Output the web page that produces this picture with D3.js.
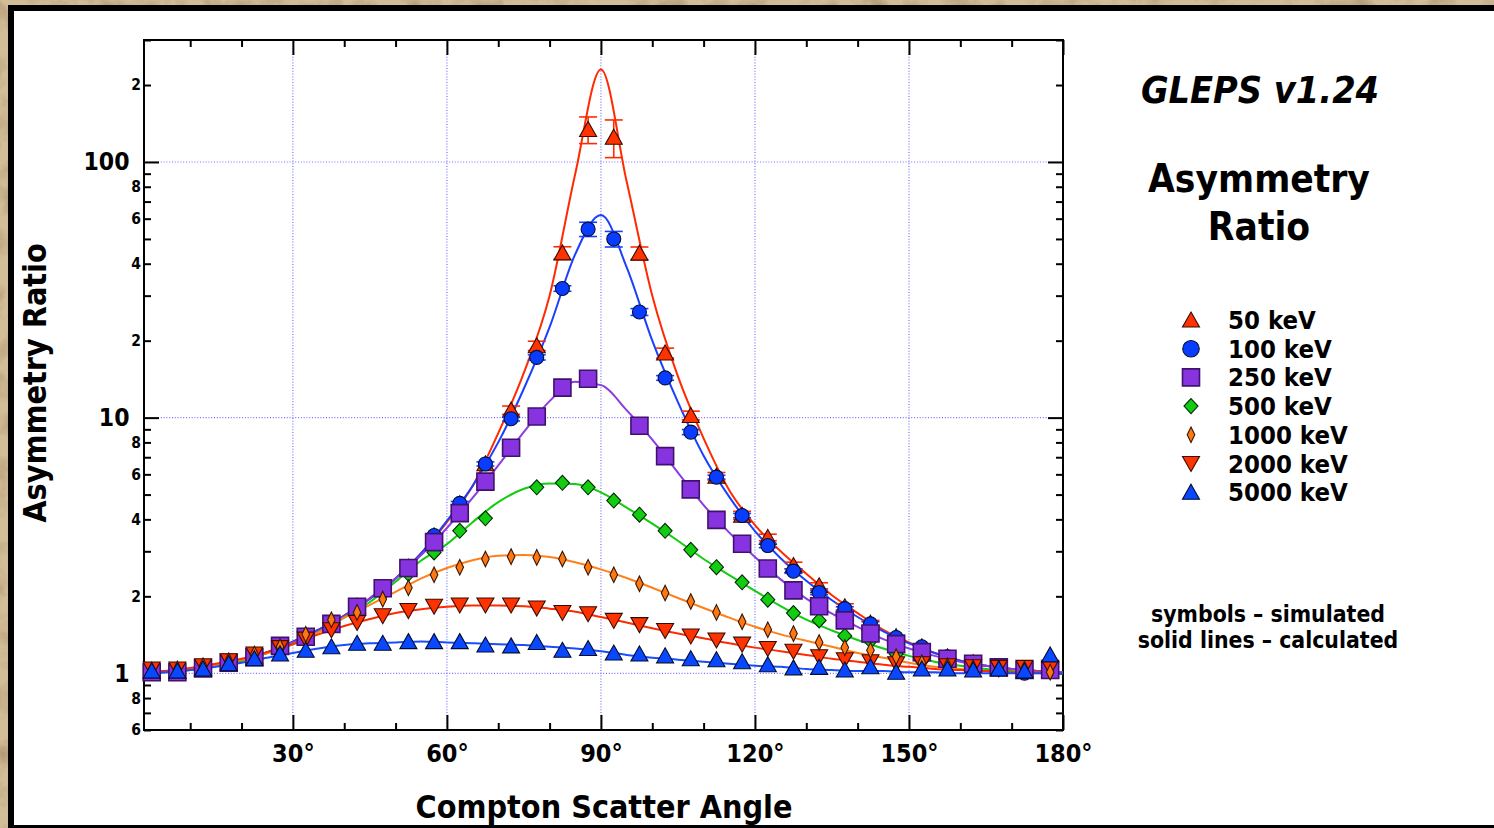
<html>
<head>
<meta charset="utf-8">
<script src="https://d3js.org/d3.v7.min.js"></script>
<style>
body { margin: 0; background: #cdb38b; }
text { font-family: "DejaVu Sans Condensed", "DejaVu Sans", sans-serif; font-weight: bold; fill: #000; }
.grid line { stroke: #7373ff; stroke-width: 1.2; stroke-dasharray: 1,1.8; }
.axis path { display: none; }
.axis line { stroke: #000; stroke-width: 2; }
</style>
</head>
<body>
<svg id="chart" width="1494" height="828"></svg>
<script>
// simulated points, every 5 degrees
var simAngles = [2.5, 7.5, 12.5, 17.5, 22.5, 27.5, 32.5, 37.5, 42.5, 47.5, 52.5, 57.5, 62.5, 67.5, 72.5, 77.5, 82.5, 87.5,
                 92.5, 97.5, 102.5, 107.5, 112.5, 117.5, 122.5, 127.5, 132.5, 137.5, 142.5, 147.5, 152.5, 157.5, 162.5, 167.5, 172.5, 177.5];

var sim50   = [1.02, 1.02, 1.05, 1.10, 1.16, 1.27, 1.39, 1.57, 1.83, 2.13, 2.6, 3.45, 4.6, 6.6, 10.7, 19.1, 44.1, 134,
               125, 44.0, 17.9, 10.2, 5.9, 4.15, 3.40, 2.64, 2.20, 1.82, 1.57, 1.39, 1.27, 1.16, 1.10, 1.06, 1.03, 1.03];
var sim100  = [1.02, 1.02, 1.05, 1.10, 1.16, 1.28, 1.40, 1.57, 1.84, 2.15, 2.6, 3.46, 4.62, 6.59, 9.9, 17.2, 32.0, 54.6,
               50.0, 25.9, 14.3, 8.78, 5.85, 4.14, 3.16, 2.51, 2.07, 1.79, 1.56, 1.38, 1.27, 1.16, 1.10, 1.06, 1.00, 1.02];
var sim250  = [1.01, 1.01, 1.045, 1.10, 1.155, 1.28, 1.39, 1.56, 1.82, 2.15, 2.58, 3.26, 4.23, 5.62, 7.62, 10.1, 13.1, 14.2,
               null, 9.3, 7.07, 5.24, 3.98, 3.21, 2.57, 2.11, 1.83, 1.61, 1.43, 1.30, 1.21, 1.14, 1.09, 1.055, 1.03, 1.03];
var sim500  = [1.03, 1.03, 1.06, 1.10, 1.17, 1.25, 1.38, 1.55, 1.75, 2.05, 2.45, 2.97, 3.61, 4.04, null, 5.34, 5.56, 5.34,
               4.74, 4.17, 3.61, 3.04, 2.60, 2.27, 1.94, 1.72, 1.61, 1.40, 1.34, 1.19, 1.12, 1.08, 1.05, 1.04, 1.03, 1.03];
var sim1000 = [1.03, 1.04, 1.07, 1.12, 1.19, 1.27, 1.42, 1.62, 1.73, 1.95, 2.16, 2.43, 2.60, 2.80, 2.86, 2.84, 2.80, 2.60,
               2.43, 2.24, 2.06, 1.91, 1.73, 1.59, 1.48, 1.43, 1.32, 1.26, 1.23, 1.16, 1.10, 1.07, 1.05, 1.04, 1.04, 1.01];
var sim2000 = [1.04, 1.04, 1.07, 1.12, 1.19, 1.26, 1.36, 1.48, 1.58, 1.68, 1.76, 1.83, 1.85, 1.85, 1.85, 1.80, 1.73, 1.71,
               1.61, 1.55, 1.47, 1.40, 1.35, 1.30, 1.25, 1.22, 1.16, 1.13, 1.11, 1.09, 1.09, 1.07, 1.06, 1.055, 1.055, 1.055];
var sim5000 = [1.02, 1.02, 1.04, 1.09, 1.14, 1.19, 1.23, 1.27, 1.31, 1.31, 1.33, 1.33, 1.33, 1.29, 1.28, 1.32, 1.23, 1.25,
               1.20, 1.19, 1.17, 1.14, 1.13, 1.11, 1.08, 1.05, 1.055, 1.03, 1.06, 1.01, 1.04, 1.04, 1.03, 1.04, 1.02, 1.18];

// +/- errors on the simulated points (null = no bar)
var err50  = [null, null, null, null, null, null, null, null, null, null, null, null, null, null, 0.4, 0.8, 2.5, 16,
              21, 2.5, 0.8, 0.4, 0.2, 0.15, 0.1, 0.08, 0.06, 0.05, 0.04, null, null, null, null, null, null, null];
var err100 = [null, null, null, null, null, null, null, null, null, null, null, 0.05, 0.08, 0.12, 0.2, 0.4, 0.8, 3.5,
              3.5, 0.8, 0.3, 0.2, 0.1, 0.08, 0.06, 0.05, 0.04, 0.03, 0.03, 0.03, 0.02, null, null, null, null, null];

// calculated curves
var calcAngles = [0, 5, 10, 15, 20, 25, 30, 35, 40, 45, 50, 55, 60, 65, 70, 75, 80, 85, 90,
                  95, 100, 105, 110, 115, 120, 125, 130, 135, 140, 145, 150, 155, 160, 165, 170, 175, 180];

var calc50   = [1.0, 1.02, 1.04, 1.07, 1.13, 1.21, 1.33, 1.48, 1.68, 1.96, 2.35, 2.95, 3.9, 5.4, 8.7, 15, 30, 90, 230,
                84, 30, 14.5, 8.3, 5.2, 3.8, 3.0, 2.45, 2.02, 1.72, 1.48, 1.32, 1.2, 1.12, 1.07, 1.04, 1.02, 1.01];
var calc100  = [1.0, 1.02, 1.04, 1.07, 1.13, 1.21, 1.33, 1.48, 1.68, 1.96, 2.35, 2.95, 3.95, 5.4, 8.0, 13.0, 22.6, 43.6, 62,
                38.8, 20, 11.5, 7.1, 4.9, 3.6, 2.82, 2.3, 1.93, 1.66, 1.46, 1.31, 1.2, 1.12, 1.07, 1.04, 1.02, 1.01];
var calc250  = [1.0, 1.01, 1.03, 1.07, 1.12, 1.2, 1.32, 1.46, 1.67, 1.97, 2.35, 2.9, 3.7, 4.85, 6.5, 8.8, 11.6, 13.8, 13.4,
                10.7, 8.2, 6.1, 4.55, 3.55, 2.85, 2.33, 1.96, 1.71, 1.52, 1.36, 1.25, 1.17, 1.11, 1.07, 1.04, 1.02, 1.01];
var calc500  = [1.0, 1.01, 1.03, 1.07, 1.12, 1.2, 1.3, 1.45, 1.65, 1.9, 2.28, 2.76, 3.2, 3.9, 4.67, 5.27, 5.53, 5.5, 5.1,
                4.45, 3.85, 3.3, 2.8, 2.42, 2.1, 1.83, 1.62, 1.47, 1.35, 1.25, 1.17, 1.11, 1.07, 1.04, 1.02, 1.01, 1.0];
var calc1000 = [1.0, 1.02, 1.04, 1.08, 1.13, 1.2, 1.3, 1.45, 1.65, 1.85, 2.08, 2.35, 2.58, 2.77, 2.88, 2.9, 2.85, 2.72, 2.55,
                2.36, 2.16, 1.97, 1.8, 1.65, 1.52, 1.42, 1.34, 1.27, 1.2, 1.15, 1.1, 1.06, 1.04, 1.02, 1.01, 1.0, 1.0];
var calc2000 = [1.01, 1.02, 1.05, 1.09, 1.14, 1.21, 1.3, 1.42, 1.53, 1.63, 1.72, 1.78, 1.82, 1.84, 1.84, 1.83, 1.79, 1.74, 1.66,
                1.58, 1.5, 1.43, 1.37, 1.31, 1.26, 1.22, 1.18, 1.14, 1.11, 1.08, 1.06, 1.04, 1.03, 1.02, 1.01, 1.01, 1.0];
var calc5000 = [1.0, 1.01, 1.03, 1.06, 1.1, 1.15, 1.2, 1.25, 1.29, 1.31, 1.32, 1.33, 1.32, 1.31, 1.3, 1.29, 1.27, 1.25, 1.22,
                1.18, 1.15, 1.13, 1.11, 1.09, 1.07, 1.06, 1.04, 1.03, 1.02, 1.02, 1.01, 1.01, 1.0, 1.0, 1.0, 1.0, 1.0];

var energies = ["50 keV", "100 keV", "250 keV", "500 keV", "1000 keV", "2000 keV", "5000 keV"];

// axis ticks
var xMajorTicks = [30, 60, 90, 120, 150, 180];
var xMinorTicks = [10, 20, 40, 50, 70, 80, 100, 110, 130, 140, 160, 170];
var yMajorTicks = [1, 10, 100];
var yMinorTicks = [0.6, 0.7, 0.8, 0.9, 2, 3, 4, 5, 6, 7, 8, 9, 20, 30, 40, 50, 60, 70, 80, 90, 200, 300];

var series = [
  {name: energies[0], sim: sim50,   calc: calc50,   err: err50,  shape: "triUp",   fill: "#ff3300", stroke: "#3a0a00", line: "#ff2a00"},
  {name: energies[1], sim: sim100,  calc: calc100,  err: err100, shape: "circle",  fill: "#0a3cff", stroke: "#00103a", line: "#1a40ff"},
  {name: energies[2], sim: sim250,  calc: calc250,  err: null,   shape: "square",  fill: "#8833e0", stroke: "#40126e", line: "#8a3ce0"},
  {name: energies[3], sim: sim500,  calc: calc500,  err: null,   shape: "diamond", fill: "#11cc11", stroke: "#022a02", line: "#11cc11"},
  {name: energies[4], sim: sim1000, calc: calc1000, err: null,   shape: "thin",    fill: "#ff7711", stroke: "#3a1500", line: "#ff7f1a"},
  {name: energies[5], sim: sim2000, calc: calc2000, err: null,   shape: "triDown", fill: "#ff3300", stroke: "#3a0a00", line: "#ff2a00"},
  {name: energies[6], sim: sim5000, calc: calc5000, err: null,   shape: "triUp",   fill: "#0a48ff", stroke: "#000c30", line: "#1a4cff"}
];
// symbol stacking seen in the picture
var drawOrder = [0, 1, 3, 2, 5, 4, 6];

function shapePath(shape, k) {
  k = k || 1;
  if (shape == "triUp") return "M0," + (-8*k) + "L" + (8.5*k) + "," + (7*k) + "L" + (-8.5*k) + "," + (7*k) + "Z";
  if (shape == "triDown") return "M0," + (8*k) + "L" + (8.5*k) + "," + (-7*k) + "L" + (-8.5*k) + "," + (-7*k) + "Z";
  if (shape == "square") return "M" + (-8.5*k) + "," + (-8.5*k) + "h" + (17*k) + "v" + (17*k) + "h" + (-17*k) + "Z";
  if (shape == "diamond") return "M0," + (-7.5*k) + "L" + (7*k) + ",0L0," + (7.5*k) + "L" + (-7*k) + ",0Z";
  if (shape == "thin") return "M0," + (-7.8*k) + "L" + (3.8*k) + ",0L0," + (7.8*k) + "L" + (-3.8*k) + ",0Z";
  var r = 7*k;
  return "M" + r + ",0A" + r + "," + r + " 0 1,1 " + (-r) + ",0A" + r + "," + r + " 0 1,1 " + r + ",0Z";
}

var svg = d3.select("#chart");

// parchment + frame
var defs = svg.append("defs");
var f = defs.append("filter").attr("id", "paper").attr("x", 0).attr("y", 0).attr("width", "100%").attr("height", "100%");
f.append("feTurbulence").attr("type", "fractalNoise").attr("baseFrequency", 0.035).attr("numOctaves", 4).attr("seed", 7);
f.append("feColorMatrix").attr("type", "matrix")
  .attr("values", "0 0 0 0 0.45  0 0 0 0 0.33  0 0 0 0 0.18  0 0 0 -2.4 1.35");
defs.append("clipPath").attr("id", "plotclip").append("rect")
  .attr("x", 144).attr("y", 40).attr("width", 919).attr("height", 690);

svg.append("rect").attr("width", 1494).attr("height", 828).attr("fill", "#d3bd98");
svg.append("rect").attr("width", 1494).attr("height", 828).attr("filter", "url(#paper)");
svg.append("rect").attr("x", 8).attr("y", 5).attr("width", 1500).attr("height", 830).attr("fill", "#000");
svg.append("rect").attr("x", 14).attr("y", 11).attr("width", 1490).attr("height", 814).attr("fill", "#fff");

var x = d3.scaleLinear().domain([1, 180]).range([144, 1063]);
var y = d3.scaleLog().domain([0.6, 300]).range([730, 40]);

// grid
var grid = svg.append("g").attr("class", "grid");
grid.selectAll(".gx").data(xMajorTicks.filter(function(d) { return d < 180; })).enter().append("line")
  .attr("x1", function(d) { return x(d); }).attr("x2", function(d) { return x(d); })
  .attr("y1", 40).attr("y2", 730);
grid.selectAll(".gy").data(yMajorTicks).enter().append("line")
  .attr("y1", function(d) { return y(d); }).attr("y2", function(d) { return y(d); })
  .attr("x1", 144).attr("x2", 1063);

// axes, ticks pointing inward
function minorLabel(v) {
  var p = Math.pow(10, Math.floor(Math.log10(v) + 1e-9));
  var d = Math.round(v / p);
  return d % 2 == 0 ? String(d) : "";
}
svg.append("g").attr("class", "axis").attr("transform", "translate(144,0)")
  .call(d3.axisLeft(y).tickValues(yMinorTicks).tickSize(-7).tickSizeOuter(0).tickPadding(3).tickFormat(minorLabel))
  .selectAll("text").style("font-size", "15.5px");
svg.append("g").attr("class", "axis").attr("transform", "translate(144,0)")
  .call(d3.axisLeft(y).tickValues(yMajorTicks).tickSize(-15).tickSizeOuter(0).tickPadding(14.5).tickFormat(d3.format("d")))
  .selectAll("text").style("font-size", "24.5px");
svg.append("g").attr("class", "axis").attr("transform", "translate(1063,0)")
  .call(d3.axisRight(y).tickValues(yMinorTicks).tickSize(-7).tickSizeOuter(0).tickFormat(""));
svg.append("g").attr("class", "axis").attr("transform", "translate(1063,0)")
  .call(d3.axisRight(y).tickValues(yMajorTicks).tickSize(-15).tickSizeOuter(0).tickFormat(""));

svg.append("g").attr("class", "axis").attr("transform", "translate(0,730)")
  .call(d3.axisBottom(x).tickValues(xMinorTicks).tickSize(-7).tickSizeOuter(0).tickFormat(""));
svg.append("g").attr("class", "axis").attr("transform", "translate(0,730)")
  .call(d3.axisBottom(x).tickValues(xMajorTicks).tickSize(-15).tickSizeOuter(0).tickPadding(14).tickFormat(function(d) { return d + "°"; }))
  .selectAll("text").style("font-size", "25px");
svg.append("g").attr("class", "axis").attr("transform", "translate(0,40)")
  .call(d3.axisTop(x).tickValues(xMinorTicks).tickSize(-7).tickSizeOuter(0).tickFormat(""));
svg.append("g").attr("class", "axis").attr("transform", "translate(0,40)")
  .call(d3.axisTop(x).tickValues(xMajorTicks).tickSize(-15).tickSizeOuter(0).tickFormat(""));

svg.append("rect").attr("x", 144).attr("y", 40).attr("width", 919).attr("height", 690)
  .attr("fill", "none").attr("stroke", "#000").attr("stroke-width", 2);

// calculated curves
var line = d3.line()
  .defined(function(d) { return d[1] != null; })
  .x(function(d) { return x(d[0]); })
  .y(function(d) { return y(d[1]); })
  .curve(d3.curveMonotoneX);

svg.append("g").attr("clip-path", "url(#plotclip)")
  .selectAll("path").data(series).enter().append("path")
  .attr("fill", "none")
  .attr("stroke", function(s) { return s.line; })
  .attr("stroke-width", 2)
  .attr("d", function(s) { return line(calcAngles.map(function(a, i) { return [a, s.calc[i]]; })); });

// error bars + symbols
drawOrder.forEach(function(k) {
  var s = series[k];
  var pts = s.sim.map(function(v, i) { return {a: simAngles[i], v: v, e: s.err ? s.err[i] : null}; })
    .filter(function(d) { return d.v != null; });
  var g = svg.append("g");
  var eb = pts.filter(function(d) { return d.e != null; });
  var eg = g.selectAll(".eb").data(eb).enter().append("g")
    .attr("stroke", s.line).attr("stroke-width", 1.6);
  eg.append("line")
    .attr("x1", function(d) { return x(d.a); }).attr("x2", function(d) { return x(d.a); })
    .attr("y1", function(d) { return y(d.v - d.e); }).attr("y2", function(d) { return y(d.v + d.e); });
  eg.append("line")
    .attr("x1", function(d) { return x(d.a) - 9; }).attr("x2", function(d) { return x(d.a) + 9; })
    .attr("y1", function(d) { return y(d.v - d.e); }).attr("y2", function(d) { return y(d.v - d.e); });
  eg.append("line")
    .attr("x1", function(d) { return x(d.a) - 9; }).attr("x2", function(d) { return x(d.a) + 9; })
    .attr("y1", function(d) { return y(d.v + d.e); }).attr("y2", function(d) { return y(d.v + d.e); });

  g.selectAll(".m").data(pts).enter().append("path")
    .attr("transform", function(d) { return "translate(" + x(d.a) + "," + y(d.v) + ")"; })
    .attr("d", shapePath(s.shape))
    .attr("fill", s.fill)
    .attr("stroke", s.stroke)
    .attr("stroke-width", s.shape == "square" ? 1.6 : 1.1);
});

// axis titles
svg.append("text").attr("x", 604).attr("y", 818).attr("text-anchor", "middle")
  .style("font-size", "32px").text("Compton Scatter Angle");
svg.append("text").attr("transform", "translate(46,383) rotate(-90)").attr("text-anchor", "middle")
  .style("font-size", "32px").text("Asymmetry Ratio");

// right-hand panel
svg.append("text").attr("x", 1260).attr("y", 103).attr("text-anchor", "middle")
  .style("font-size", "37.5px").style("font-style", "italic").text("GLEPS v1.24");
svg.append("text").attr("x", 1259).attr("y", 192).attr("text-anchor", "middle")
  .style("font-size", "38.5px").text("Asymmetry");
svg.append("text").attr("x", 1259).attr("y", 240).attr("text-anchor", "middle")
  .style("font-size", "38.5px").text("Ratio");

var legend = svg.append("g").selectAll("g").data(series).enter().append("g")
  .attr("transform", function(s, i) { return "translate(1191," + (320 + i * 28.7) + ")"; });
legend.append("path")
  .attr("d", function(s) { return shapePath(s.shape, s.shape == "circle" ? 1.18 : 1.0); })
  .attr("fill", function(s) { return s.fill; })
  .attr("stroke", function(s) { return s.stroke; })
  .attr("stroke-width", function(s) { return s.shape == "square" ? 1.6 : 1.1; });
legend.append("text").attr("x", 37).attr("y", 9)
  .style("font-size", "25.5px").text(function(s) { return s.name; });

svg.append("text").attr("x", 1268).attr("y", 622).attr("text-anchor", "middle")
  .style("font-size", "22.8px").text("symbols – simulated");
svg.append("text").attr("x", 1268).attr("y", 648).attr("text-anchor", "middle")
  .style("font-size", "22.8px").text("solid lines – calculated");
</script>
</body>
</html>
